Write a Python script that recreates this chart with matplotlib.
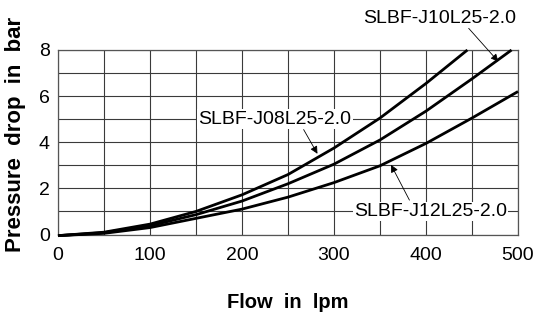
import numpy as np
import matplotlib.pyplot as plt
import matplotlib as mpl

mpl.rcParams['font.family'] = ['Liberation Sans', 'DejaVu Sans']

# (flow in lpm, pressure drop in bar)
flow_j08 = [0, 50, 100, 150, 200, 250, 300, 350, 400, 445]
dp_j08 = [-0.05, 0.1, 0.45, 1.0, 1.72, 2.6, 3.75, 5.05, 6.55, 8.0]

flow_j10 = [0, 50, 100, 150, 200, 250, 300, 350, 400, 450, 493]
dp_j10 = [-0.05, 0.08, 0.38, 0.86, 1.45, 2.2, 3.05, 4.1, 5.35, 6.75, 8.0]

flow_j12 = [0, 50, 100, 150, 200, 250, 300, 350, 400, 450, 500]
dp_j12 = [-0.05, 0.05, 0.3, 0.7, 1.1, 1.62, 2.25, 2.98, 3.95, 5.05, 6.2]

labels = ['SLBF-J08L25-2.0', 'SLBF-J10L25-2.0', 'SLBF-J12L25-2.0']

xticks = [0, 100, 200, 300, 400, 500]
yticks = [0, 2, 4, 6, 8]

fig = plt.figure(figsize=(5.34, 3.16), dpi=100)
ax = fig.add_axes([58 / 534, 1 - 234.5 / 316, 460 / 534, 184.5 / 316])

for fx, dp in [(flow_j08, dp_j08), (flow_j10, dp_j10), (flow_j12, dp_j12)]:
    ax.plot(fx, dp, color='k', lw=2.0, clip_on=False, solid_capstyle='butt', zorder=3)

ax.set_xlim(0, 500)
ax.set_ylim(0, 8)
ax.set_xticks(xticks)
ax.set_yticks(yticks)
ax.set_xticks(np.arange(0, 501, 50), minor=True)
ax.set_yticks(np.arange(0, 9, 1), minor=True)
ax.grid(which='both', color='#3a3a3a', lw=0.8)
ax.tick_params(which='both', length=0, labelsize=14)
ax.tick_params(axis='x', pad=9)
ax.tick_params(axis='y', pad=6)
for s in ax.spines.values():
    s.set_color('#555555')
    s.set_linewidth(0.9)

arr = dict(arrowstyle='-|>', color='k', lw=0.6, mutation_scale=11, shrinkA=0, shrinkB=0)
box = dict(facecolor='white', edgecolor='none', pad=1.0)

# J08 label and leader
ax.text(235.7, 5.0, labels[0], fontsize=14, ha='center', va='center', bbox=box, zorder=4)
ax.annotate('', xy=(282, 3.5), xytext=(267, 4.55), arrowprops=arr, zorder=5)

# J10 label above the plot
ax.text(415, 9.38, labels[1], fontsize=14, ha='center', va='center', clip_on=False)
ax.annotate('', xy=(478.6, 7.5), xytext=(446.4, 8.94), arrowprops=arr,
            annotation_clip=False, zorder=5)

# J12 label and leader
ax.text(405, 1.0, labels[2], fontsize=14, ha='center', va='center', bbox=box, zorder=4)
ax.annotate('', xy=(362, 3.02), xytext=(382, 1.49), arrowprops=arr, zorder=5)

fig.text(288 / 534, 1 - 302 / 316, 'Flow  in  lpm', fontsize=14.5, fontweight='bold',
         ha='center', va='center')
fig.text(16 / 534, 1 - 134 / 316, 'Pressure  drop  in  bar', fontsize=16, fontweight='bold',
         rotation=90, ha='center', va='center')

fig.savefig('out.png', dpi=100)
